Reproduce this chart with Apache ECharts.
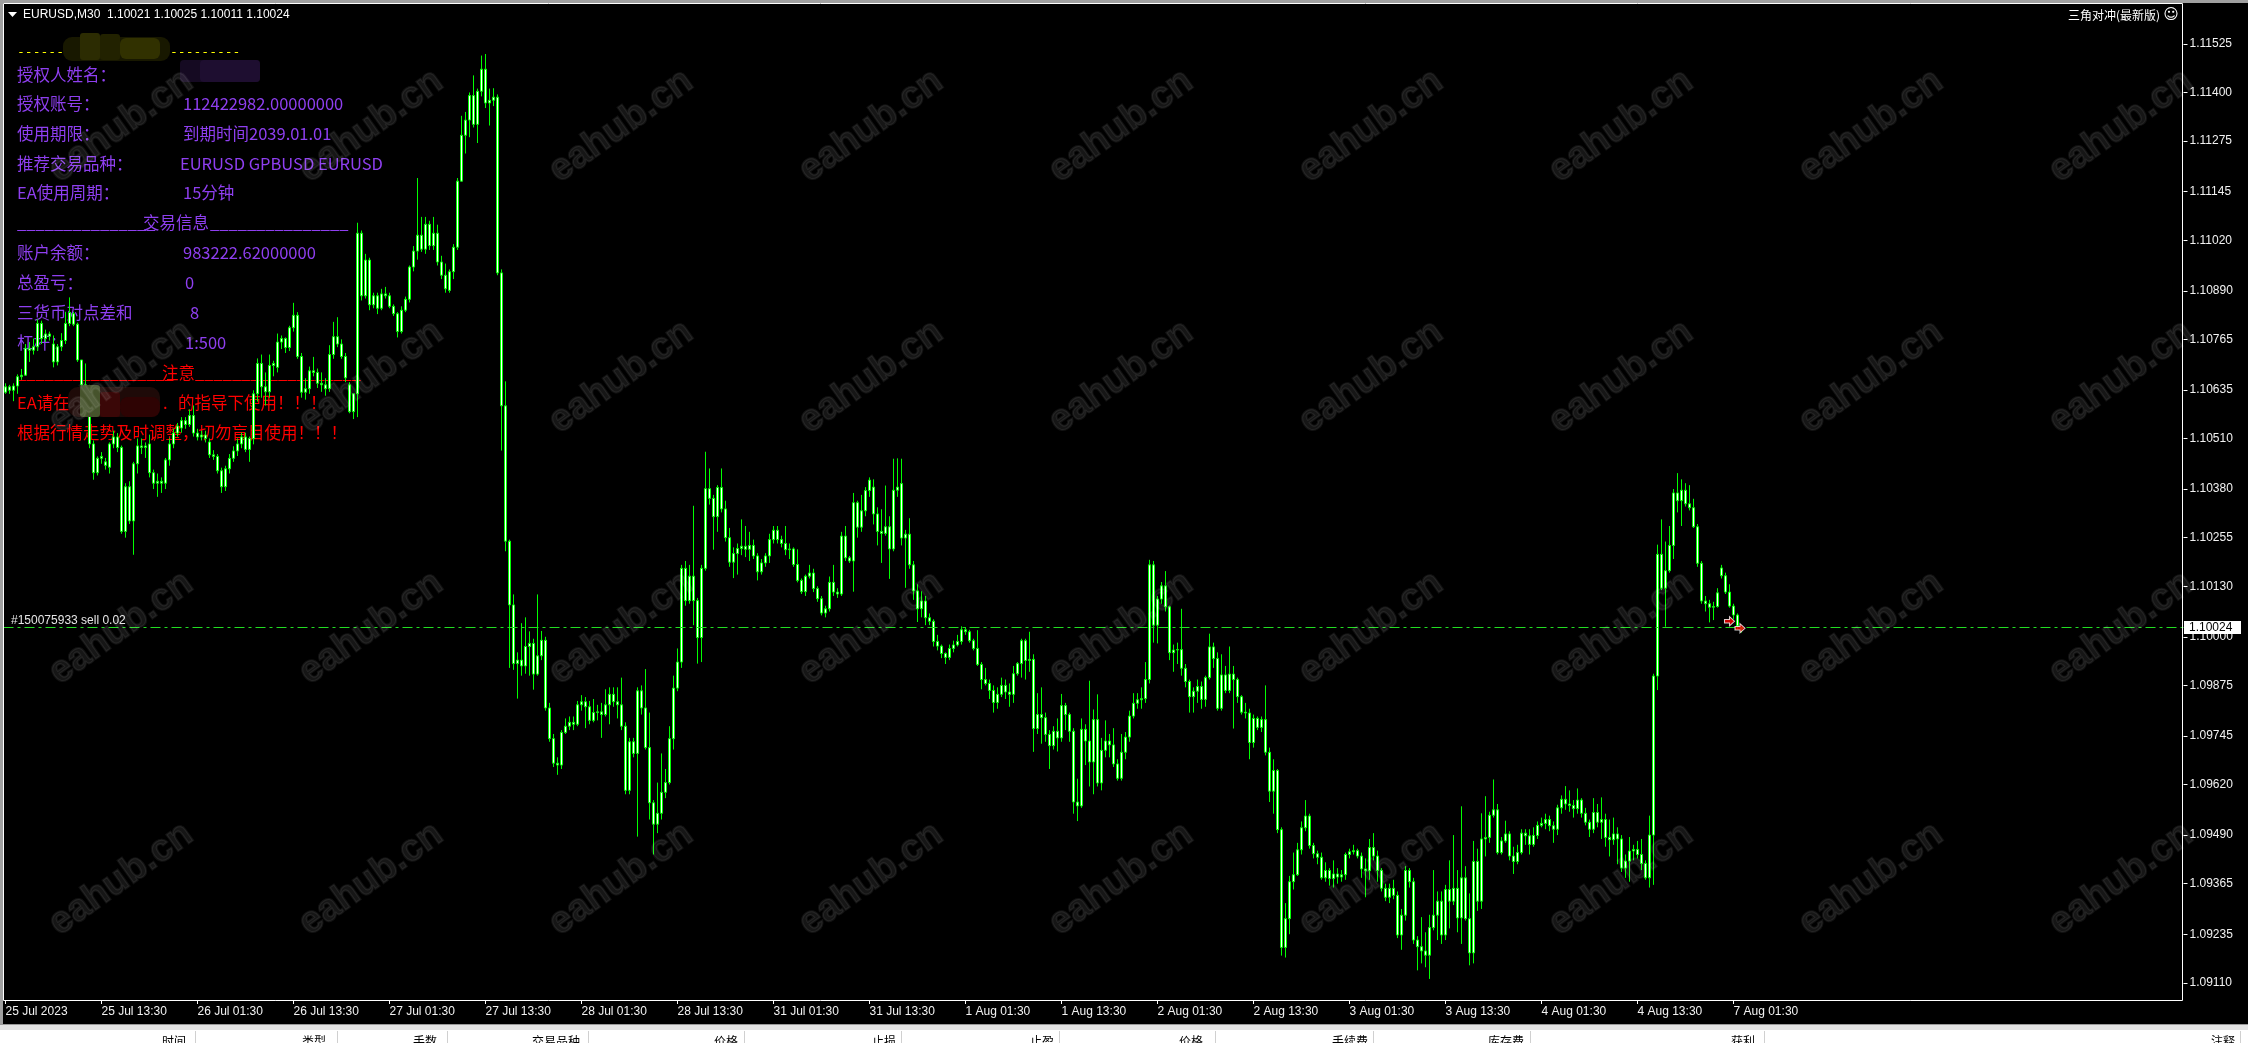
<!DOCTYPE html>
<html><head><meta charset="utf-8">
<script src="https://cdn.jsdelivr.net/npm/echarts@6/dist/echarts.min.js"></script>
<style>html,body{margin:0;padding:0;background:#000;overflow:hidden}#c{width:2248px;height:1043px}</style>
</head><body><div id="c"></div>
<script>
// ---------------- DATA (EURUSD M30) ----------------
const symbolTitle = 'EURUSD,M30  1.10021 1.10025 1.10011 1.10024';
const xTickLabels = ['25 Jul 2023','25 Jul 13:30','26 Jul 01:30','26 Jul 13:30','27 Jul 01:30','27 Jul 13:30','28 Jul 01:30','28 Jul 13:30','31 Jul 01:30','31 Jul 13:30','1 Aug 01:30','1 Aug 13:30','2 Aug 01:30','2 Aug 13:30','3 Aug 01:30','3 Aug 13:30','4 Aug 01:30','4 Aug 13:30','7 Aug 01:30'];
const yTickLabels = ['1.11525','1.11400','1.11275','1.11145','1.11020','1.10890','1.10765','1.10635','1.10510','1.10380','1.10255','1.10130','1.10000','1.09875','1.09745','1.09620','1.09490','1.09365','1.09235','1.09110'];

const opens = [
1.10629,1.10643,1.10634,1.10645,1.10669,1.10673,1.10742,1.10737,1.10746,1.10806,
1.10767,1.10779,1.10753,1.10707,1.10746,1.10762,1.10806,1.10831,1.10804,1.10712,
1.10648,1.10641,1.10496,1.10422,1.10459,1.10450,1.10436,1.10496,1.10514,1.10487,
1.10271,1.10386,1.10298,1.10445,1.10491,1.10487,1.10496,1.10422,1.10395,1.10400,
1.10395,1.10455,1.10496,1.10524,1.10537,1.10556,1.10546,1.10569,1.10524,1.10514,
1.10519,1.10501,1.10468,1.10464,1.10427,1.10386,1.10432,1.10459,1.10478,1.10496,
1.10514,1.10482,1.10510,1.10625,1.10703,1.10643,1.10630,1.10698,1.10693,1.10758,
1.10767,1.10744,1.10795,1.10827,1.10721,1.10629,1.10638,1.10684,1.10680,1.10652,
1.10648,1.10638,1.10726,1.10772,1.10753,1.10721,1.10648,1.10579,1.10625,1.11038,
1.10877,1.10969,1.10854,1.10877,1.10845,1.10882,1.10877,1.10850,1.10831,1.10785,
1.10840,1.10868,1.10951,1.10992,1.11033,1.10997,1.11061,1.11006,1.11038,1.10964,
1.10930,1.10891,1.10939,1.11002,1.11172,1.11290,1.11329,1.11392,1.11318,1.11403,
1.11460,1.11373,1.11380,1.11388,1.10936,1.10594,1.10246,1.10082,1.09931,1.09940,
1.09925,1.09975,1.09983,1.09904,1.09951,1.09991,1.09817,1.09738,1.09675,1.09670,
1.09754,1.09770,1.09780,1.09775,1.09825,1.09833,1.09820,1.09785,1.09805,1.09807,
1.09800,1.09825,1.09852,1.09833,1.09825,1.09770,1.09605,1.09730,1.09700,1.09861,
1.09817,1.09715,1.09573,1.09518,1.09546,1.09600,1.09625,1.09738,1.09868,1.09935,
1.10176,1.10093,1.10156,1.10093,1.09998,1.10176,1.10381,1.10356,1.10309,1.10384,
1.10329,1.10255,1.10192,1.10214,1.10227,1.10233,1.10225,1.10235,1.10208,1.10167,
1.10190,1.10208,1.10250,1.10274,1.10250,1.10240,1.10224,1.10226,1.10186,1.10145,
1.10116,1.10156,1.10164,1.10124,1.10098,1.10061,1.10072,1.10140,1.10115,1.10110,
1.10259,1.10203,1.10195,1.10345,1.10282,1.10324,1.10376,1.10385,1.10316,1.10271,
1.10266,1.10283,1.10226,1.10377,1.10394,1.10254,1.10264,1.10185,1.10118,1.10072,
1.10092,1.10049,1.10040,1.09988,1.09976,1.09957,1.09947,1.09970,1.09979,1.09988,
1.10018,1.10013,1.09990,1.09970,1.09929,1.09890,1.09880,1.09862,1.09831,1.09852,
1.09875,1.09858,1.09852,1.09905,1.09931,1.09990,1.09939,1.09942,1.09764,1.09800,
1.09792,1.09749,1.09720,1.09757,1.09740,1.09823,1.09800,1.09757,1.09575,1.09565,
1.09762,1.09732,1.09678,1.09787,1.09624,1.09708,1.09732,1.09722,1.09673,1.09636,
1.09703,1.09742,1.09796,1.09829,1.09838,1.09841,1.09890,1.10185,1.10030,1.10097,
1.10131,1.10077,1.09959,1.09966,1.09967,1.09919,1.09885,1.09846,1.09860,1.09872,
1.09839,1.09895,1.09974,1.09944,1.09816,1.09902,1.09862,1.09904,1.09890,1.09846,
1.09806,1.09804,1.09728,1.09790,1.09767,1.09787,1.09703,1.09603,1.09656,1.09504,
1.09201,1.09275,1.09370,1.09388,1.09452,1.09509,1.09539,1.09463,1.09442,1.09433,
1.09380,1.09399,1.09378,1.09390,1.09382,1.09388,1.09440,1.09447,1.09450,1.09436,
1.09403,1.09398,1.09458,1.09436,1.09399,1.09353,1.09330,1.09353,1.09335,1.09233,
1.09284,1.09399,1.09370,1.09220,1.09203,1.09192,1.09181,1.09252,1.09284,1.09320,
1.09233,1.09350,1.09320,1.09353,1.09277,1.09380,1.09275,1.09187,1.09422,1.09320,
1.09480,1.09484,1.09541,1.09555,1.09445,1.09475,1.09493,1.09436,1.09422,1.09445,
1.09495,1.09488,1.09466,1.09489,1.09515,1.09520,1.09530,1.09514,1.09505,1.09560,
1.09582,1.09570,1.09566,1.09558,1.09580,1.09546,1.09523,1.09505,1.09548,1.09523,
1.09530,1.09484,1.09478,1.09493,1.09480,1.09405,1.09423,1.09449,1.09453,1.09440,
1.09417,1.09380,1.09490,1.09899,1.10212,1.10125,1.10170,1.10235,1.10370,1.10350,
1.10377,1.10342,1.10332,1.10283,1.10189,1.10092,1.10085,1.10076,1.10078,1.10177,
1.10157,1.10115,1.10079,1.10056,1.10021];

const highs = [
1.10652,1.10648,1.10652,1.10675,1.10689,1.10753,1.10758,1.10767,1.10817,1.10813,
1.10790,1.10785,1.10775,1.10753,1.10781,1.10836,1.10873,1.10836,1.10808,1.10712,
1.10703,1.10648,1.10505,1.10464,1.10475,1.10460,1.10500,1.10530,1.10524,1.10492,
1.10395,1.10400,1.10450,1.10510,1.10510,1.10500,1.10520,1.10430,1.10420,1.10410,
1.10460,1.10510,1.10535,1.10550,1.10565,1.10565,1.10585,1.10595,1.10535,1.10530,
1.10530,1.10510,1.10480,1.10470,1.10435,1.10440,1.10470,1.10490,1.10510,1.10525,
1.10525,1.10515,1.10634,1.10716,1.10726,1.10680,1.10726,1.10710,1.10780,1.10775,
1.10770,1.10800,1.10859,1.10835,1.10730,1.10665,1.10695,1.10720,1.10690,1.10680,
1.10665,1.10750,1.10810,1.10822,1.10765,1.10730,1.10655,1.10625,1.11065,1.11045,
1.10985,1.10975,1.10885,1.10885,1.10895,1.10900,1.10885,1.10855,1.10835,1.10850,
1.10875,1.10955,1.11005,1.11180,1.11080,1.11080,1.11070,1.11080,1.11060,1.10980,
1.10960,1.10945,1.11010,1.11180,1.11340,1.11350,1.11400,1.11444,1.11410,1.11495,
1.11499,1.11410,1.11411,1.11395,1.10945,1.10657,1.10250,1.10109,1.09960,1.10035,
1.10050,1.10014,1.09995,1.10109,1.10015,1.10000,1.09830,1.09750,1.09690,1.09760,
1.09790,1.09795,1.09795,1.09835,1.09850,1.09845,1.09835,1.09840,1.09825,1.09830,
1.09865,1.09870,1.09870,1.09870,1.09895,1.09780,1.09740,1.09740,1.09870,1.09875,
1.09917,1.09805,1.09580,1.09625,1.09700,1.09660,1.09770,1.09900,1.09970,1.10185,
1.10195,1.10185,1.10337,1.10100,1.10185,1.10476,1.10433,1.10365,1.10390,1.10433,
1.10350,1.10280,1.10230,1.10240,1.10302,1.10285,1.10270,1.10250,1.10215,1.10200,
1.10215,1.10265,1.10285,1.10285,1.10260,1.10285,1.10240,1.10230,1.10225,1.10150,
1.10160,1.10185,1.10175,1.10130,1.10105,1.10080,1.10155,1.10185,1.10125,1.10270,
1.10285,1.10208,1.10370,1.10350,1.10365,1.10385,1.10410,1.10405,1.10333,1.10328,
1.10389,1.10310,1.10458,1.10459,1.10458,1.10275,1.10305,1.10195,1.10135,1.10117,
1.10105,1.10060,1.10045,1.10005,1.09980,1.09960,1.09980,1.09990,1.10005,1.10027,
1.10025,1.10018,1.09995,1.10017,1.09935,1.09920,1.09890,1.09875,1.09870,1.09895,
1.09890,1.09880,1.09925,1.09935,1.09995,1.09995,1.10013,1.09955,1.09855,1.09870,
1.09805,1.09760,1.09770,1.09790,1.09853,1.09830,1.09805,1.09765,1.09635,1.09790,
1.09775,1.09887,1.09813,1.09852,1.09740,1.09785,1.09750,1.09765,1.09685,1.09750,
1.09755,1.09810,1.09855,1.09855,1.09870,1.09935,1.10198,1.10195,1.10105,1.10141,
1.10169,1.10080,1.09980,1.09985,1.10072,1.09930,1.09890,1.09870,1.09890,1.09885,
1.09900,1.10008,1.09985,1.09960,1.09955,1.09925,1.09975,1.09925,1.09895,1.09850,
1.09830,1.09815,1.09800,1.09795,1.09795,1.09875,1.09715,1.09685,1.09660,1.09510,
1.09315,1.09385,1.09445,1.09470,1.09525,1.09580,1.09545,1.09470,1.09450,1.09445,
1.09420,1.09405,1.09425,1.09405,1.09400,1.09445,1.09455,1.09465,1.09455,1.09445,
1.09430,1.09480,1.09495,1.09450,1.09405,1.09365,1.09365,1.09375,1.09345,1.09300,
1.09410,1.09405,1.09380,1.09230,1.09279,1.09240,1.09285,1.09400,1.09345,1.09345,
1.09362,1.09425,1.09490,1.09400,1.09564,1.09410,1.09340,1.09475,1.09455,1.09546,
1.09590,1.09550,1.09633,1.09570,1.09485,1.09527,1.09500,1.09460,1.09465,1.09505,
1.09505,1.09505,1.09510,1.09525,1.09535,1.09545,1.09540,1.09525,1.09568,1.09592,
1.09616,1.09605,1.09580,1.09610,1.09585,1.09560,1.09530,1.09585,1.09570,1.09587,
1.09545,1.09530,1.09535,1.09510,1.09490,1.09440,1.09485,1.09465,1.09475,1.09480,
1.09425,1.09540,1.09905,1.10237,1.10302,1.10245,1.10285,1.10380,1.10421,1.10405,
1.10395,1.10390,1.10355,1.10290,1.10195,1.10105,1.10095,1.10090,1.10125,1.10185,
1.10165,1.10135,1.10085,1.10060,1.10025];

const lows = [
1.10625,1.10625,1.10606,1.10625,1.10661,1.10671,1.10707,1.10726,1.10735,1.10753,
1.10758,1.10762,1.10693,1.10698,1.10735,1.10753,1.10799,1.10799,1.10707,1.10638,
1.10615,1.10485,1.10404,1.10415,1.10445,1.10430,1.10420,1.10485,1.10475,1.10265,
1.10255,1.10290,1.10211,1.10420,1.10470,1.10460,1.10410,1.10380,1.10360,1.10370,
1.10380,1.10440,1.10485,1.10515,1.10525,1.10535,1.10540,1.10515,1.10505,1.10505,
1.10500,1.10460,1.10455,1.10420,1.10370,1.10375,1.10420,1.10450,1.10465,1.10485,
1.10475,1.10450,1.10495,1.10605,1.10615,1.10595,1.10615,1.10670,1.10680,1.10740,
1.10730,1.10735,1.10785,1.10715,1.10615,1.10610,1.10625,1.10670,1.10640,1.10630,
1.10620,1.10630,1.10715,1.10745,1.10715,1.10655,1.10575,1.10560,1.10565,1.10865,
1.10870,1.10840,1.10845,1.10830,1.10840,1.10870,1.10845,1.10825,1.10770,1.10780,
1.10835,1.10860,1.10940,1.10970,1.10990,1.10985,1.10995,1.10995,1.10955,1.10920,
1.10885,1.10885,1.10920,1.10995,1.11170,1.11243,1.11285,1.11310,1.11270,1.11390,
1.11360,1.11315,1.11365,1.10930,1.10479,1.10220,1.09920,1.09915,1.09841,1.09900,
1.09905,1.09900,1.09864,1.09900,1.09940,1.09810,1.09730,1.09665,1.09645,1.09660,
1.09750,1.09760,1.09760,1.09770,1.09810,1.09765,1.09775,1.09780,1.09785,1.09740,
1.09795,1.09775,1.09820,1.09790,1.09760,1.09595,1.09595,1.09690,1.09486,1.09800,
1.09710,1.09530,1.09440,1.09495,1.09530,1.09585,1.09620,1.09710,1.09860,1.09920,
1.10080,1.10085,1.10030,1.09931,1.09935,1.10170,1.10340,1.10224,1.10270,1.10320,
1.10245,1.10180,1.10151,1.10160,1.10210,1.10205,1.10195,1.10200,1.10145,1.10160,
1.10180,1.10190,1.10240,1.10240,1.10230,1.10210,1.10200,1.10180,1.10140,1.10110,
1.10105,1.10150,1.10115,1.10090,1.10055,1.10050,1.10065,1.10105,1.10100,1.10105,
1.10195,1.10190,1.10116,1.10255,1.10270,1.10310,1.10360,1.10289,1.10235,1.10190,
1.10260,1.10149,1.10220,1.10360,1.10235,1.10126,1.10175,1.10095,1.10038,1.10050,
1.10030,1.10030,1.09975,1.09965,1.09945,1.09930,1.09940,1.09960,1.09975,1.09980,
1.10005,1.09985,1.09965,1.09925,1.09865,1.09875,1.09840,1.09805,1.09815,1.09845,
1.09840,1.09820,1.09830,1.09900,1.09895,1.09890,1.09910,1.09704,1.09750,1.09725,
1.09730,1.09660,1.09710,1.09705,1.09730,1.09760,1.09730,1.09545,1.09526,1.09560,
1.09670,1.09615,1.09595,1.09615,1.09605,1.09690,1.09690,1.09665,1.09630,1.09630,
1.09685,1.09730,1.09790,1.09815,1.09815,1.09830,1.09880,1.09985,1.09983,1.10085,
1.10065,1.09940,1.09910,1.09930,1.09900,1.09870,1.09805,1.09805,1.09830,1.09815,
1.09820,1.09890,1.09920,1.09810,1.09810,1.09855,1.09855,1.09764,1.09830,1.09800,
1.09790,1.09685,1.09715,1.09760,1.09755,1.09695,1.09575,1.09545,1.09495,1.09180,
1.09175,1.09235,1.09350,1.09385,1.09440,1.09500,1.09455,1.09430,1.09415,1.09375,
1.09370,1.09360,1.09355,1.09365,1.09370,1.09375,1.09430,1.09440,1.09430,1.09380,
1.09330,1.09375,1.09425,1.09370,1.09345,1.09320,1.09315,1.09325,1.09225,1.09195,
1.09270,1.09355,1.09210,1.09142,1.09160,1.09150,1.09120,1.09245,1.09220,1.09210,
1.09220,1.09250,1.09310,1.09240,1.09210,1.09270,1.09155,1.09160,1.09295,1.09300,
1.09435,1.09470,1.09535,1.09440,1.09440,1.09470,1.09425,1.09390,1.09415,1.09440,
1.09465,1.09440,1.09460,1.09480,1.09510,1.09505,1.09500,1.09470,1.09490,1.09545,
1.09555,1.09550,1.09535,1.09545,1.09535,1.09515,1.09485,1.09495,1.09510,1.09480,
1.09460,1.09435,1.09465,1.09415,1.09395,1.09380,1.09370,1.09425,1.09430,1.09400,
1.09375,1.09355,1.09362,1.09863,1.10120,1.10026,1.10165,1.10200,1.10320,1.10285,
1.10335,1.10325,1.10280,1.10180,1.10085,1.10065,1.10037,1.10043,1.10075,1.10150,
1.10110,1.10075,1.10045,1.10020,1.10011];

const closes = [
1.10643,1.10634,1.10645,1.10669,1.10673,1.10742,1.10737,1.10746,1.10806,1.10767,
1.10779,1.10773,1.10707,1.10746,1.10762,1.10806,1.10834,1.10804,1.10712,1.10648,
1.10641,1.10496,1.10422,1.10459,1.10464,1.10441,1.10496,1.10514,1.10487,1.10271,
1.10386,1.10298,1.10445,1.10491,1.10487,1.10491,1.10422,1.10395,1.10400,1.10395,
1.10455,1.10496,1.10524,1.10542,1.10556,1.10546,1.10569,1.10524,1.10514,1.10519,
1.10510,1.10468,1.10464,1.10427,1.10386,1.10432,1.10459,1.10478,1.10496,1.10514,
1.10482,1.10510,1.10625,1.10703,1.10643,1.10630,1.10698,1.10703,1.10758,1.10767,
1.10744,1.10795,1.10827,1.10721,1.10629,1.10638,1.10684,1.10680,1.10652,1.10648,
1.10638,1.10726,1.10772,1.10753,1.10721,1.10666,1.10579,1.10625,1.11038,1.10877,
1.10969,1.10854,1.10877,1.10845,1.10882,1.10877,1.10850,1.10831,1.10785,1.10840,
1.10868,1.10951,1.10992,1.11033,1.10997,1.11061,1.11006,1.11038,1.10964,1.10930,
1.10895,1.10939,1.11002,1.11172,1.11290,1.11329,1.11392,1.11318,1.11403,1.11460,
1.11373,1.11380,1.11388,1.10936,1.10594,1.10246,1.10082,1.09931,1.09940,1.09925,
1.09975,1.09983,1.09904,1.09951,1.09991,1.09817,1.09738,1.09675,1.09670,1.09754,
1.09770,1.09780,1.09775,1.09825,1.09833,1.09820,1.09785,1.09805,1.09807,1.09800,
1.09825,1.09852,1.09833,1.09825,1.09770,1.09605,1.09730,1.09700,1.09861,1.09817,
1.09715,1.09573,1.09518,1.09546,1.09600,1.09625,1.09738,1.09868,1.09935,1.10176,
1.10093,1.10156,1.10093,1.09998,1.10176,1.10381,1.10356,1.10309,1.10384,1.10329,
1.10255,1.10192,1.10214,1.10227,1.10233,1.10225,1.10235,1.10208,1.10167,1.10190,
1.10208,1.10250,1.10274,1.10250,1.10240,1.10224,1.10226,1.10186,1.10145,1.10116,
1.10156,1.10164,1.10124,1.10098,1.10061,1.10072,1.10140,1.10115,1.10110,1.10259,
1.10203,1.10195,1.10345,1.10282,1.10324,1.10376,1.10403,1.10316,1.10271,1.10266,
1.10283,1.10226,1.10377,1.10385,1.10254,1.10264,1.10185,1.10118,1.10072,1.10092,
1.10049,1.10040,1.09988,1.09976,1.09957,1.09947,1.09970,1.09979,1.09988,1.10018,
1.10013,1.09990,1.09970,1.09929,1.09890,1.09880,1.09862,1.09831,1.09852,1.09875,
1.09858,1.09852,1.09905,1.09931,1.09990,1.09939,1.09942,1.09764,1.09800,1.09792,
1.09749,1.09720,1.09757,1.09740,1.09823,1.09800,1.09757,1.09575,1.09565,1.09762,
1.09732,1.09678,1.09787,1.09624,1.09708,1.09732,1.09722,1.09673,1.09636,1.09703,
1.09742,1.09796,1.09829,1.09838,1.09841,1.09890,1.10185,1.10030,1.10097,1.10131,
1.10077,1.09959,1.09966,1.09967,1.09919,1.09885,1.09846,1.09860,1.09872,1.09839,
1.09895,1.09974,1.09944,1.09816,1.09902,1.09862,1.09904,1.09890,1.09846,1.09806,
1.09804,1.09728,1.09790,1.09767,1.09787,1.09703,1.09603,1.09656,1.09504,1.09201,
1.09275,1.09370,1.09388,1.09452,1.09509,1.09539,1.09463,1.09442,1.09433,1.09380,
1.09399,1.09378,1.09390,1.09382,1.09388,1.09440,1.09447,1.09450,1.09436,1.09403,
1.09398,1.09458,1.09436,1.09399,1.09353,1.09330,1.09353,1.09335,1.09233,1.09284,
1.09399,1.09370,1.09220,1.09203,1.09192,1.09181,1.09252,1.09284,1.09320,1.09233,
1.09350,1.09320,1.09353,1.09277,1.09380,1.09275,1.09187,1.09422,1.09320,1.09480,
1.09484,1.09541,1.09555,1.09445,1.09475,1.09493,1.09436,1.09422,1.09445,1.09495,
1.09488,1.09466,1.09489,1.09515,1.09520,1.09530,1.09514,1.09505,1.09560,1.09582,
1.09570,1.09566,1.09558,1.09580,1.09546,1.09523,1.09505,1.09548,1.09523,1.09530,
1.09484,1.09478,1.09493,1.09480,1.09405,1.09423,1.09449,1.09453,1.09440,1.09417,
1.09380,1.09490,1.09899,1.10212,1.10125,1.10170,1.10235,1.10370,1.10350,1.10377,
1.10342,1.10332,1.10283,1.10189,1.10092,1.10085,1.10076,1.10078,1.10113,1.10157,
1.10115,1.10079,1.10056,1.10028,1.10024];

const orderPrice = 1.10024;
const orderLabel = '#150075933 sell 0.02';
const arrowBars = [431, 433];
const arrowPrices = [1.10040, 1.10022];

const panelLabels = ['授权人姓名：','授权账号：','使用期限：','推荐交易品种：','EA使用周期：'];
const panelValues = ['','112422982.00000000','到期时间2039.01.01','EURUSD GPBUSD EURUSD','15分钟'];
const tradeLabels = ['账户余额：','总盈亏：','三货币对点差和','杠杆：'];
const tradeValues = ['983222.62000000','0','8','1:500'];
const tableHeaders = ['时间','类型','手数','交易品种','价格','止损','止盈','价格','手续费','库存费','获利','注释'];

// ---------------- LAYOUT ----------------
const W = 2248, H = 1043;
const slotCount = 545;             // bar slots across the plot (4 px each)
const gridLeft = 3.5, gridTop = 4, gridW = slotCount * 4, gridH = 996;
const yMin = 1.090658, yMax = 1.116276;
const CJK = '"Noto Sans CJK SC", "Noto Sans CJK JP", sans-serif';
const SANS = '"Liberation Sans", Arial, sans-serif';
const purple = '#8f3ff0';

const chart = echarts.init(document.getElementById('c'), null, {renderer: 'canvas', width: W, height: H});
const slots = Array.from({length: slotCount}, (_, i) => String(i));
const candleData = opens.map((o, i) => [o, closes[i], lows[i], highs[i]]);
const isLabelSlot = (i) => i % 24 === 0 && i / 24 < xTickLabels.length;

chart.setOption({
  backgroundColor: '#000000',
  animation: false,
  grid: {left: gridLeft, top: gridTop, width: gridW, height: gridH, containLabel: false},
  xAxis: {
    type: 'category', data: slots, boundaryGap: true,
    axisLine: {show: false},
    axisTick: {show: true, interval: isLabelSlot, alignWithLabel: true, length: 4, lineStyle: {color: '#ffffff', width: 1}},
    axisLabel: {interval: isLabelSlot, formatter: (v, i) => xTickLabels[Math.round(i / 24)] || '', align: 'left', margin: 6,
      color: '#f2f2f2', fontSize: 12, fontFamily: 'Liberation Sans'},
    splitLine: {show: false}
  },
  yAxis: {
    type: 'value', position: 'right', min: yMin, max: yMax,
    splitLine: {show: false}, axisLine: {show: false},
    axisTick: {show: true, length: 4, customValues: yTickLabels.map(Number), lineStyle: {color: '#ffffff'}},
    axisLabel: {customValues: yTickLabels.map(Number), formatter: (v) => Number(v).toFixed(5), margin: 6,
      color: '#f2f2f2', fontSize: 12, fontFamily: 'Liberation Sans'}
  },
  series: [{
    type: 'candlestick', data: candleData, barWidth: 2, z: 2,
    itemStyle: {color: '#ffffff', color0: '#ffffff', borderColor: '#00ff00', borderColor0: '#00ff00', borderColorDoji: '#00ff00', borderWidth: 1},
    emphasis: {disabled: true}
  }, {
    type: 'scatter', z: 5, silent: true,
    symbol: 'path://M0,3L5,3L5,0L10,5L5,10L5,7L0,7Z', symbolSize: [10, 9],
    itemStyle: {color: '#ff0000', borderColor: '#ffffff', borderWidth: 1},
    data: arrowBars.map((b, i) => ({value: [b, arrowPrices[i]], symbolOffset: [i === 1 ? 2.5 : 0, 0]})),
    markLine: {silent: true, symbol: ['none', 'none'], label: {show: false}, z: 3, precision: 5,
      lineStyle: {color: '#22dd22', type: [10, 4, 3, 4], width: 1, opacity: 1},
      emphasis: {disabled: true},
      data: [{yAxis: orderPrice}]}
  }]
});

// ---------------- GRAPHICS (texts, frame, watermark, bottom panel) ----------------
const g = [];
function T(x, y, s, fill, font, extra, z) {
  g.push({type: 'text', x, y, z: z == null ? 1 : z, silent: true,
    style: Object.assign({text: s, fill, font, align: 'left', verticalAlign: 'middle'}, extra || {})});
}
function R(x, y, w, h, fill, z, r) {
  g.push({type: 'rect', z: z == null ? 1 : z, silent: true, shape: {x, y, width: w, height: h, r: r || 0}, style: {fill}});
}
const pf = '16.5px ' + CJK;

// top chrome
R(0, 0, W, 3, '#a0a0a0', 60);
R(0, 0, 3, 1024, '#a0a0a0', 60);
g.push({type: 'polygon', z: 61, silent: true, shape: {points: [[8, 12], [17, 12], [12.5, 17]]}, style: {fill: '#ffffff'}});
T(23, 15, symbolTitle, '#ffffff', '12px ' + SANS, null, 61);
T(2160, 15, '三角对冲(最新版)', '#ffffff', '12px ' + CJK, {align: 'right'}, 61);
T(2171, 15, '☺', '#ffffff', '15px "DejaVu Sans"', {align: 'center'}, 61);

// info panel (drawn under candles)
const mono = '13px "DejaVu Sans Mono", monospace';
T(17, 53, '------', '#ffff00', mono);
T(170, 53, '---------', '#ffff00', mono);
const rowY = [75, 104, 134, 164, 193];
const valX = [183, 183, 183, 180, 183];
panelLabels.forEach((s, i) => { T(17, rowY[i], s, purple, pf); if (panelValues[i]) T(valX[i], rowY[i], panelValues[i], purple, pf); });
T(17, 223, '_______________', purple, pf);
T(143, 223, '交易信息', purple, pf);
T(210, 223, '_______________', purple, pf);
const tY = [253, 283, 313, 343], tX = [183, 185, 190, 185];
tradeLabels.forEach((s, i) => { T(17, tY[i], s, purple, pf); T(tX[i], tY[i], tradeValues[i], purple, pf); });
T(17, 373, '_________________', '#ff0000', pf);
T(162, 373, '注意', '#ff0000', pf);
T(195, 373, '__________________', '#ff0000', pf);
T(17, 403, 'EA请在', '#ff0000', pf);
T(163, 403, '.', '#ff0000', pf);
T(178, 403, '的指导下使用！！！', '#ff0000', pf);
T(17, 433, '根据行情走势及时调整，切勿盲目使用！！！', '#ff0000', pf);

// mosaic (redacted) patches, over candles
R(63, 37, 107, 24, '#181800', 4, 9);
R(80, 33, 20, 27, '#2c2c02', 4, 3);
R(100, 34, 20, 26, '#222200', 4, 3);
R(120, 38, 40, 21, '#313100', 4, 6);
R(180, 60, 80, 22, '#150a22', 4, 4);
R(200, 60, 60, 22, '#1e0e30', 4, 4);
R(68, 387, 92, 30, '#1e0a08', 4, 10);
R(80, 385, 20, 32, '#46532c', 4, 3);
R(100, 392, 20, 25, '#3a0707', 4, 3);
R(120, 397, 40, 20, '#2e0303', 4, 8);

// order label above the order line
const oy = chart.convertToPixel({yAxisIndex: 0}, orderPrice);
T(11, oy - 7, orderLabel, '#e6e6e6', '12px ' + SANS, null, 3);

// watermark grid
[126, 377, 628, 879].forEach(cy => {
  for (let k = 0; k < 9; k++) {
    g.push({type: 'text', x: 121 + 250 * k, y: cy, rotation: 0.62, z: 50, silent: true,
      style: {text: 'eahub.cn', font: 'bold 38px ' + SANS, fill: 'rgba(255,255,255,0.085)', stroke: 'rgba(255,255,255,0.07)', lineWidth: 2,
        align: 'center', verticalAlign: 'middle'}});
  }
});

// chart frame
g.push({type: 'rect', z: 60, silent: true, shape: {x: 3.5, y: 3.5, width: 2179, height: 997}, style: {fill: 'none', stroke: '#ffffff', lineWidth: 1}});

// current price box on the right axis
const lastClose = closes[closes.length - 1];
const py = chart.convertToPixel({yAxisIndex: 0}, lastClose);
R(2184, py - 6.5, 57, 13, '#ffffff', 70);
T(2189, py + 0.5, lastClose.toFixed(5), '#000000', '12px ' + SANS, null, 71);

// bottom terminal header strip
R(0, 1024, W, 19, '#ffffff', 80);
R(0, 1024, W, 6, '#e4e4e4', 81);
R(0, 1024, W, 1, '#9a9a9a', 82);
const colRight = [186, 326, 437, 580, 738, 896, 1054, 1203, 1368, 1524, 1755, 2235];
const colSep = [195, 337, 447, 588, 744, 901, 1059, 1215, 1373, 1530, 1764, 2240];
colSep.forEach(x => R(x, 1031, 1, 12, '#d0d0d0', 82));
tableHeaders.forEach((s, i) => T(colRight[i], 1041, s, '#000000', '12px ' + CJK, {align: 'right'}, 83));

chart.setOption({graphic: {elements: g}});
</script></body></html>
